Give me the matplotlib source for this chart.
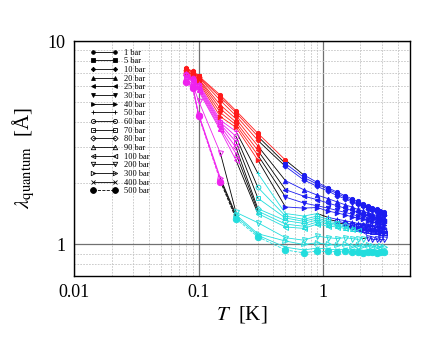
import matplotlib
matplotlib.use("Agg")
import matplotlib.pyplot as plt
from matplotlib.lines import Line2D
from matplotlib.ticker import LogLocator, NullFormatter, FixedLocator, FixedFormatter

plt.rcParams['font.family'] = ['Liberation Serif', 'DejaVu Serif']
plt.rcParams['mathtext.fontset'] = 'stix'

# temperatures [K]
temps = [0.08, 0.09, 0.1, 0.15, 0.2, 0.3, 0.5, 0.7, 0.9, 1.1,
         1.3, 1.5, 1.7, 1.9, 2.1, 2.3, 2.5, 2.7, 2.9, 3.1]

labels = ["1 bar", "5 bar", "10 bar", "20 bar", "25 bar", "30 bar", "40 bar",
          "50 bar", "60 bar", "70 bar", "80 bar", "90 bar", "100 bar",
          "200 bar", "300 bar", "400 bar", "500 bar"]

# lambda_quantum [A] per pressure
lam_1 = [7.35, 7.10, 6.75, 5.42, 4.55, 3.52, 2.60, 2.20, 2.02, 1.90, 1.81, 1.74, 1.68, 1.63, 1.59, 1.55, 1.52, 1.49, 1.46, 1.44]
lam_5 = [7.30, 7.05, 6.70, 5.30, 4.45, 3.40, 2.50, 2.14, 1.98, 1.87, 1.78, 1.71, 1.65, 1.60, 1.56, 1.53, 1.50, 1.47, 1.44, 1.42]
lam_10 = [7.25, 7.00, 6.65, 5.10, 4.30, 3.25, 2.42, 2.08, 1.93, 1.83, 1.74, 1.68, 1.62, 1.58, 1.54, 1.50, 1.47, 1.45, 1.42, 1.40]
lam_20 = [7.15, 6.90, 6.55, 4.85, 4.15, 3.05, 2.06, 1.86, 1.75, 1.68, 1.62, 1.57, 1.53, 1.49, 1.46, 1.43, 1.41, 1.39, 1.37, 1.35]
lam_25 = [7.10, 6.85, 6.50, 4.65, 4.00, 2.90, 1.86, 1.73, 1.66, 1.60, 1.55, 1.51, 1.47, 1.44, 1.41, 1.39, 1.37, 1.35, 1.33, 1.31]
lam_30 = [7.05, 6.80, 6.40, 4.45, 3.88, 2.75, 1.71, 1.60, 1.55, 1.51, 1.47, 1.44, 1.41, 1.38, 1.36, 1.34, 1.32, 1.30, 1.29, 1.28]
lam_40 = [7.00, 6.70, 6.30, 4.25, 3.77, 2.60, 1.53, 1.51, 1.52, 1.46, 1.43, 1.40, 1.37, 1.35, 1.33, 1.31, 1.29, 1.28, 1.26, 1.25]
lam_50 = [6.95, 6.62, 6.20, 4.08, 3.60, 2.24, 1.42, 1.38, 1.42, 1.36, 1.33, 1.31, 1.29, 1.27, 1.26, 1.25, 1.24, 1.23, 1.22, 1.21]
lam_60 = [6.90, 6.55, 6.10, 3.98, 3.40, 1.91, 1.38, 1.33, 1.38, 1.33, 1.30, 1.28, 1.26, 1.25, 1.24, 1.23, 1.22, 1.21, 1.20, 1.19]
lam_70 = [6.85, 6.50, 6.00, 3.90, 3.20, 1.69, 1.35, 1.30, 1.35, 1.30, 1.28, 1.26, 1.24, 1.23, 1.22, 1.21, 1.20, 1.19, 1.18, 1.17]
lam_80 = [6.80, 6.45, 5.90, 3.82, 3.00, 1.50, 1.31, 1.27, 1.32, 1.28, 1.26, 1.24, 1.22, 1.21, 1.20, 1.19, 1.18, 1.17, 1.16, 1.16]
lam_90 = [6.75, 6.40, 5.80, 3.72, 2.80, 1.46, 1.26, 1.23, 1.29, 1.26, 1.24, 1.22, 1.21, 1.20, 1.19, 1.18, 1.17, 1.16, 1.15, 1.15]
lam_100 = [6.70, 6.35, 5.70, 3.64, 2.60, 1.42, 1.22, 1.20, 1.26, 1.23, 1.22, 1.20, 1.19, 1.18, 1.17, 1.16, 1.16, 1.15, 1.14, 1.14]
lam_200 = [6.50, 6.10, 5.10, 2.81, 1.44, 1.28, 1.08, 1.05, 1.10, 1.08, 1.07, 1.08, 1.07, 1.06, 1.07, 1.08, 1.07, 1.07, 1.06, 1.06]
lam_300 = [6.40, 6.00, 4.40, 2.12, 1.40, 1.13, 1.04, 1.00, 1.02, 1.00, 0.99, 1.00, 0.98, 0.99, 0.98, 0.99, 0.98, 0.97, 0.98, 0.97]
lam_400 = [6.35, 5.90, 4.35, 2.08, 1.37, 1.11, 0.97, 0.94, 0.96, 0.95, 0.94, 0.95, 0.94, 0.95, 0.93, 0.94, 0.94, 0.93, 0.94, 0.93]
lam_500 = [6.30, 5.85, 4.30, 2.04, 1.34, 1.09, 0.94, 0.91, 0.93, 0.93, 0.92, 0.93, 0.92, 0.92, 0.91, 0.92, 0.92, 0.91, 0.92, 0.92]

# phase at each temperature: S superfluid, N normal, L low-T solid, H high-T solid
phase_1 = "SSSSSSSNNNNNNNNNNNNN"
phase_5 = "SSSSSSNNNNNNNNNNNNNN"
phase_10 = "SSSSSSNNNNNNNNNNNNNN"
phase_20 = "SSSSSSNNNNNNNNNNNNNN"
phase_25 = "SSSSSSNNNNNNNNNNNNNN"
phase_30 = "SSSSSSNNNNNNNNNNNNNN"
phase_40 = "SSSSSSNNNNNNNNNNNNNN"
phase_50 = "LLLLLHHHHNNNNNNNNNNN"
phase_60 = "LLLLLHHHHHNNNNNNNNNN"
phase_70 = "LLLLLHHHHHHNNNNNNNNN"
phase_80 = "LLLLLHHHHHHHNNNNNNNN"
phase_90 = "LLLLLHHHHHHHHNNNNNNN"
phase_100 = "LLLLLHHHHHHHHHNNNNNN"
phase_200 = "LLLLHHHHHHHHHHHNNNNN"
phase_300 = "LLLLHHHHHHHHHHHHHHHH"
phase_400 = "LLLLHHHHHHHHHHHHHHHH"
phase_500 = "LLLLHHHHHHHHHHHHHHHH"

series = [lam_1, lam_5, lam_10, lam_20, lam_25, lam_30, lam_40, lam_50, lam_60,
          lam_70, lam_80, lam_90, lam_100, lam_200, lam_300, lam_400, lam_500]
phases = [phase_1, phase_5, phase_10, phase_20, phase_25, phase_30, phase_40, phase_50,
          phase_60, phase_70, phase_80, phase_90, phase_100, phase_200, phase_300,
          phase_400, phase_500]

phase_color = {"S": "#ff1a1a", "N": "#1c1cf0", "L": "#ee22ee", "H": "#22dddd"}
# (marker, filled, size)
markers = [("o", True, 3.0), ("s", True, 3.0), ("D", True, 2.6), ("^", True, 3.2),
           ("<", True, 3.2), ("v", True, 3.2), (">", True, 3.2), ("+", True, 3.4),
           ("o", False, 3.4), ("s", False, 3.4), ("D", False, 3.0), ("^", False, 3.6),
           ("<", False, 3.6), ("v", False, 3.6), (">", False, 3.6), ("x", True, 3.2),
           ("o", True, 4.6)]

fig = plt.figure(figsize=(4.36, 3.37), dpi=100)
ax = fig.add_axes([0.170, 0.181, 0.770, 0.697])

for k, (vals, ph) in enumerate(zip(series, phases)):
    ls = "--" if k == len(series) - 1 else "-"
    for i in range(len(temps) - 1):
        c = phase_color[ph[i]] if ph[i] == ph[i + 1] else "black"
        ax.plot(temps[i:i + 2], vals[i:i + 2], color=c, lw=0.6, ls=ls, zorder=3)
    m, filled, ms = markers[k]
    for i in range(len(temps)):
        c = phase_color[ph[i]]
        ax.plot(temps[i], vals[i], marker=m, ms=ms, mew=0.7, color=c,
                mfc=c if filled else "none", mec=c, ls="none", zorder=4)

ax.set_xscale("log")
ax.set_yscale("log")
ax.set_xlim(0.01, 5)
ax.set_ylim(0.7, 10)

ax.xaxis.set_major_locator(FixedLocator([0.01, 0.1, 1]))
ax.xaxis.set_major_formatter(FixedFormatter(["0.01", "0.1", "1"]))
ax.yaxis.set_major_locator(FixedLocator([1, 10]))
ax.yaxis.set_major_formatter(FixedFormatter(["1", "10"]))
ax.xaxis.set_minor_locator(LogLocator(base=10, subs=range(2, 10)))
ax.yaxis.set_minor_locator(LogLocator(base=10, subs=range(2, 10)))
ax.xaxis.set_minor_formatter(NullFormatter())
ax.yaxis.set_minor_formatter(NullFormatter())
ax.tick_params(which="both", direction="in", length=0, labelsize=13, pad=6)

ax.grid(which="minor", color="#c4c4c4", ls=(0, (2, 1.5)), lw=0.6, zorder=0)
ax.grid(which="major", color="#707070", ls="-", lw=0.9, zorder=0)
ax.set_axisbelow(True)
for s in ax.spines.values():
    s.set_linewidth(1.0)

ax.set_xlabel(r"$T$  [K]", fontsize=15, labelpad=2)
ax.set_ylabel(r"$\lambda_{\mathrm{quantum}}$  [Å]", fontsize=15, labelpad=8)

handles = []
for k, lab in enumerate(labels):
    m, filled, ms = markers[k]
    ls = "--" if k == len(labels) - 1 else "-"
    handles.append(Line2D([0], [0], color="black", lw=0.6, ls=ls, marker=m, ms=ms - 0.4,
                          mfc="black" if filled else "none", mec="black", mew=0.6,
                          label=lab))
ax.legend(handles=handles, loc="upper left", bbox_to_anchor=(0.05, 0.968),
          frameon=False, fontsize=6, numpoints=2, handlelength=3.2,
          handletextpad=0.72, labelspacing=0.08, borderaxespad=0, borderpad=0)

fig.savefig("out.png", dpi=100)
